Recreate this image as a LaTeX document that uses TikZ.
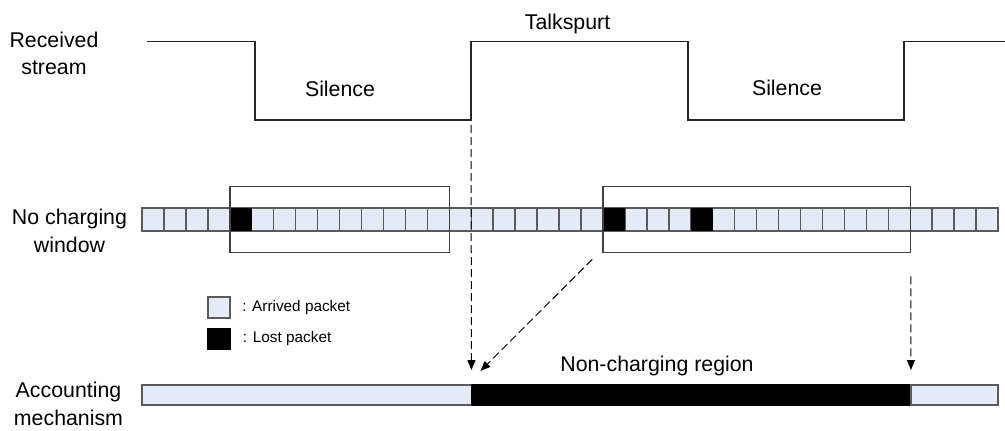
\documentclass[tikz,border=0pt]{standalone}
\usepackage{fontspec}
\setmainfont{Liberation Sans}
\usetikzlibrary{arrows.meta, positioning, fit, calc}
\definecolor{PacketBlue}{HTML}{E4EAF6}
\definecolor{EdgeGray}{HTML}{5A5A5A}
\definecolor{FrameGray}{HTML}{404040}
\tikzset{
  % Packet styles
  cellbox/.style={rectangle, draw=EdgeGray, fill=PacketBlue, line width=1.1pt, minimum width=16.46pt, minimum height=17.25pt, inner sep=0pt, outer sep=0pt},
  lostbox/.style={cellbox, draw=black, fill=black},
  windowbox/.style={rectangle, draw=FrameGray, line width=1.1pt, inner xsep=0pt, inner ysep=16.2pt},
  accbox/.style={rectangle, draw=EdgeGray, fill=PacketBlue, line width=1.1pt, minimum height=15pt, inner sep=0pt, outer sep=0pt},
  % Text styles
  labeltext/.style={font=\fontsize{16}{20.5}\selectfont, align=center, inner sep=0pt},
  legendtext/.style={font=\fontsize{11.5}{14}\selectfont, inner sep=0pt},
  % Line styles
  wave/.style={line width=0.8pt, black!85},
  dasharrow/.style={-{Triangle[length=7.5pt,width=6pt]}, line width=0.75pt, dash pattern=on 6pt off 3pt}
}

\begin{document}
\begin{tikzpicture}[x=0.75pt, y=-0.75pt]
  \useasboundingbox (0,0) rectangle (1005,430);

  % Row labels
  \node[labeltext] (rxlabel) at (54,53.5) {Received\\stream};
  \node[labeltext] (ncwlabel) at (69.5,231) {No charging\\window};
  \node[labeltext] (acclabel) at (68.5,404) {Accounting\\mechanism};

  % Received stream
  \draw[wave] (147,41.5) -- (255,41.5) -- (255,120) -- (471,120) coordinate (rise1)
    -- (471,41.5) -- (688,41.5) -- (688,120) -- (904,120) -- (904,41.5) -- (1005,41.5);
  \node[labeltext] (talk) at (567.5,24) {Talkspurt};
  \node[labeltext] (sil1) at (340,89) {Silence};
  \node[labeltext] (sil2) at (787,88) {Silence};

  % Packets
  \foreach \i in {0,...,38}{
    \node[cellbox] (c\i) at ({152.975+21.95*\i},219.5) {};
  }
  \foreach \i in {4,21,25}
    \fill (c\i.south west) rectangle (c\i.north east);

  % No charging windows
  \node[windowbox, fit=(c4)(c13)] (win1) {};
  \node[windowbox, fit=(c21)(c34)] (win2) {};

  % Legend
  \node[cellbox, minimum width=16.5pt, minimum height=15.75pt] (legarr) at (219,307.5) {};
  \node[legendtext, right=9pt of legarr] (legarrtxt) {: Arrived packet};
  \node[lostbox, minimum width=16.5pt, minimum height=15.75pt] (leglost) at (219,339) {};
  \node[legendtext, right=9.5pt of leglost] (leglosttxt) {: Lost packet};

  % Accounting mechanism
  \node[accbox, minimum width=247.1pt, anchor=west] (accpre) at (142,395) {};
  \node[accbox, draw=black, fill=black, minimum width=329.6pt, right=0pt of accpre] (nonchg) {};
  \node[accbox, minimum width=65.25pt, right=0pt of nonchg] (accpost) {};
  \node[labeltext] (nclabel) at (657,366) {Non-charging region};

  % Mapping arrows
  \draw[dasharrow] ($(rise1)+(0,5)$) -- ($(nonchg.north west)+(0,-15)$);
  \draw[dasharrow] ($(win2.south west)+(-10,6)$) -- ($(nonchg.north west)+(9,-14)$);
  \draw[dasharrow] ($(win2.south east)+(0,23)$) -- ($(nonchg.north east)+(0,-15)$);
\end{tikzpicture}
\end{document}
